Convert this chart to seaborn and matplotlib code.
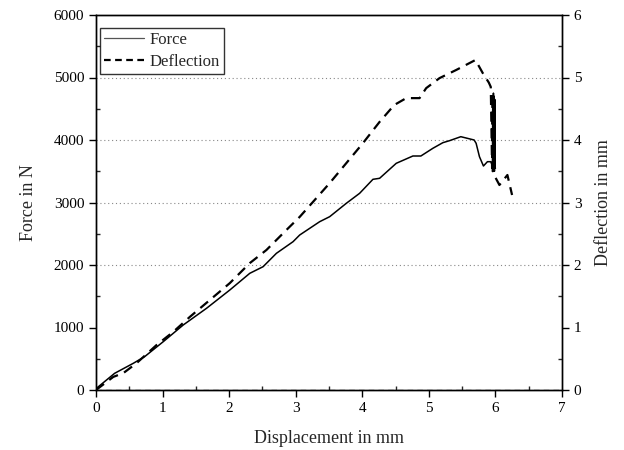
import matplotlib
matplotlib.use("Agg")
import matplotlib.pyplot as plt
import seaborn as sns
import pandas as pd
from matplotlib.lines import Line2D
from matplotlib.ticker import MultipleLocator

sns.set_style("ticks")
plt.rcParams['font.family'] = ['Liberation Serif', 'DejaVu Serif']

# Force curve (displacement mm, force N)
force_x = [0.0, 0.01, 0.28, 0.56, 0.73, 1.01, 1.31, 1.66, 2.01, 2.31, 2.51, 2.71, 2.96,
           3.06, 3.36, 3.51, 3.76, 3.96, 4.16, 4.26, 4.51, 4.76, 4.88, 5.06, 5.21, 5.31,
           5.48, 5.68, 5.71, 5.76, 5.82, 5.88, 5.93, 5.96, 5.97, 5.975, 5.98, 5.985, 5.99, 5.995, 6.0]
force_y = [0, 30, 267, 427, 533, 773, 1040, 1307, 1600, 1867, 1973, 2187, 2373,
           2480, 2693, 2773, 2987, 3147, 3371, 3387, 3627, 3744, 3744, 3867, 3957, 3989,
           4053, 4000, 3947, 3733, 3584, 3653, 3653, 3573, 4750, 3520, 4700, 3500, 4650, 3560, 3547]

# Deflection curve (displacement mm, deflection mm)
defl_x = [0.0, 0.26, 0.41, 0.61, 0.91, 1.16, 1.41, 1.71, 2.01, 2.31, 2.56, 2.86,
          3.06, 3.26, 3.51, 3.76, 4.01, 4.26, 4.48, 4.66, 4.86, 4.96, 5.16, 5.41, 5.70,
          5.81, 5.90, 5.93, 5.95, 5.955, 5.96, 5.965, 5.97, 5.98, 6.06, 6.18, 6.25]
defl_y = [0.0, 0.21, 0.27, 0.43, 0.72, 0.93, 1.17, 1.44, 1.71, 2.03, 2.24, 2.56,
          2.77, 3.01, 3.31, 3.63, 3.95, 4.29, 4.56, 4.67, 4.67, 4.83, 4.99, 5.12, 5.28,
          5.07, 4.92, 4.85, 3.55, 4.75, 3.5, 4.7, 3.55, 3.44, 3.28, 3.44, 3.12]

force_df = pd.DataFrame({"Displacement": force_x, "Force": force_y})
defl_df = pd.DataFrame({"Displacement": defl_x, "Deflection": defl_y})

fig = plt.figure(figsize=(6.24, 4.5), dpi=100)
ax = fig.add_axes([96/624, 60/450, (562-96)/624, (390-15)/450])
ax2 = ax.twinx()

# grid lines
for g in [2000, 3000, 4000, 5000]:
    ax.axhline(g, color="#888888", lw=0.8, ls=(0, (1, 2.5)), zorder=0)
ax.axhline(0, color="#666666", lw=1.0, ls=(0, (4, 3)), zorder=0)

sns.lineplot(data=force_df, x="Displacement", y="Force", ax=ax, color="black",
             lw=1.1, estimator=None, sort=False)
sns.lineplot(data=defl_df, x="Displacement", y="Deflection", ax=ax2, color="black",
             lw=1.6, ls=(0, (4.5, 3)), estimator=None, sort=False)

ax.set_xlim(0, 7)
ax.set_ylim(0, 6000)
ax2.set_ylim(0, 6)
ax.xaxis.set_major_locator(MultipleLocator(1))
ax.xaxis.set_minor_locator(MultipleLocator(0.5))
ax.yaxis.set_major_locator(MultipleLocator(1000))
ax.yaxis.set_minor_locator(MultipleLocator(500))
ax2.yaxis.set_major_locator(MultipleLocator(1))
ax2.yaxis.set_minor_locator(MultipleLocator(0.5))

for a in (ax, ax2):
    for s in a.spines.values():
        s.set_visible(True)
        s.set_linewidth(1.0)
        s.set_color("black")
    a.tick_params(which="major", direction="out", length=5, width=1.0, labelsize=11, colors="black")
    a.tick_params(which="minor", direction="in", length=3, width=1.0)

ax.set_xlabel("Displacement in mm", fontsize=13, labelpad=11)
ax.set_ylabel("Force in N", fontsize=13, labelpad=12)
ax2.set_ylabel("Deflection in mm", fontsize=13, labelpad=10)

handles = [Line2D([], [], color="#555555", lw=0.9),
           Line2D([], [], color="black", lw=1.6, ls=(0, (3, 2)))]
leg = fig.legend(handles, ["Force", "Deflection"], loc="upper left",
                 bbox_to_anchor=(100/624, 1-28/450), borderaxespad=0,
                 frameon=True, fancybox=False, fontsize=12, handlelength=2.4,
                 borderpad=0.25, labelspacing=0.35, handletextpad=0.3)
leg.get_frame().set_edgecolor("black")
leg.get_frame().set_linewidth(1.0)

fig.savefig("out.png", dpi=100)
